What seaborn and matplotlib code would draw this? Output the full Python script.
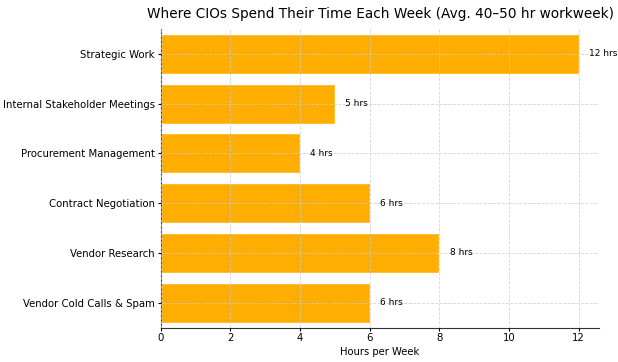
import matplotlib.pyplot as plt
import seaborn as sns
import pandas as pd

activities = [
    "Strategic Work",
    "Internal Stakeholder Meetings",
    "Procurement Management",
    "Contract Negotiation",
    "Vendor Research",
    "Vendor Cold Calls & Spam",
]
hours = [12, 5, 4, 6, 8, 6]

df = pd.DataFrame({"Activity": activities, "Hours": hours})

sns.set_style("white")
plt.rcParams["text.color"] = "black"
plt.rcParams["xtick.color"] = "black"
plt.rcParams["ytick.color"] = "black"
plt.rcParams["axes.labelcolor"] = "black"

fig, ax = plt.subplots(figsize=(6.18, 3.62), dpi=100)

sns.barplot(data=df, x="Hours", y="Activity", orient="h", color="#FFAE00",
            saturation=1, width=0.8, ax=ax)

for i, h in enumerate(hours):
    ax.text(h + 0.3, i, f"{h} hrs", va="center", fontsize=6.5)

ax.grid(True, linestyle="--", color="#cccccc", linewidth=0.6, alpha=0.8)
ax.set_axisbelow(False)
sns.despine(ax=ax)
for s in ["left", "bottom"]:
    ax.spines[s].set_color("#333333")
ax.set_xlabel("Hours per Week", fontsize=7.2, labelpad=3)
ax.set_ylabel("")
ax.set_title("Where CIOs Spend Their Time Each Week (Avg. 40–50 hr workweek)",
             fontsize=9.8, pad=8)
ax.tick_params(axis="both", labelsize=7.3, length=2.5, pad=1.5, left=True, bottom=True)
ax.set_xlim(0, 12.6)

fig.subplots_adjust(left=0.26, right=0.97, top=0.92, bottom=0.095)
fig.savefig("out.png")
